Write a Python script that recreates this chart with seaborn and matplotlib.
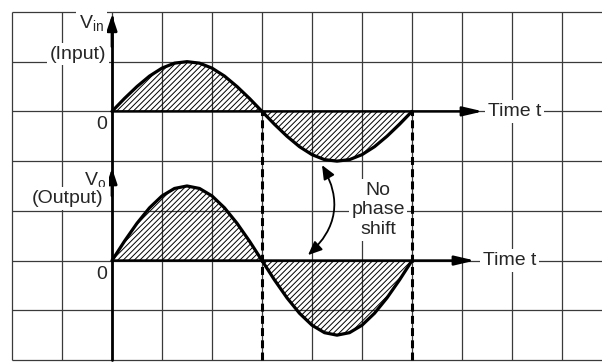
import seaborn as sns
import matplotlib.pyplot as plt
from matplotlib.patches import FancyArrowPatch

# one cycle, time in grid divisions, voltage in grid divisions
time = [0, 0.25, 0.5, 0.75, 1, 1.25, 1.5, 1.75, 2, 2.25, 2.5, 2.75, 3,
        3.25, 3.5, 3.75, 4, 4.25, 4.5, 4.75, 5, 5.25, 5.5, 5.75, 6]
v_in = [0, 0.26, 0.5, 0.71, 0.87, 0.97, 1.0, 0.97, 0.87, 0.71, 0.5, 0.26, 0,
        -0.26, -0.5, -0.71, -0.87, -0.97, -1.0, -0.97, -0.87, -0.71, -0.5, -0.26, 0]
v_out = [0, 0.39, 0.75, 1.06, 1.3, 1.45, 1.5, 1.45, 1.3, 1.06, 0.75, 0.39, 0,
         -0.39, -0.75, -1.06, -1.3, -1.45, -1.5, -1.45, -1.3, -1.06, -0.75, -0.39, 0]

in_level = 5   # where the input time axis sits
out_level = 2  # where the output time axis sits

sns.set_style('white')
plt.rcParams['font.family'] = ['Liberation Sans', 'DejaVu Sans']
plt.rcParams['mathtext.default'] = 'regular'
plt.rcParams['hatch.linewidth'] = 0.7

fig = plt.figure(figsize=(6.02, 3.63), dpi=100)
ax = fig.add_axes([0, 0, 1, 1])
ax.set_xlim(-2.24, 9.8)
ax.set_ylim(-0.06, 7.24)
ax.axis('off')

# graph paper grid
grid_col = '#3a3a3a'
ax.hlines(range(0, 8), -2, 9.8, color=grid_col, lw=0.9, zorder=1)
ax.vlines(range(-2, 10), 0, 7, color=grid_col, lw=0.9, zorder=1)

# waveforms + hatched areas
for level, vals in [(in_level, v_in), (out_level, v_out)]:
    y = [level + v for v in vals]
    ax.fill_between(time, level, y, hatch='//////', facecolor='none',
                    edgecolor='black', linewidth=0, zorder=2)
    sns.lineplot(x=time, y=y, ax=ax, color='black', lw=2.3, zorder=3)

# dashed markers at the zero crossings
ax.vlines([time[12], time[-1]], 0, in_level, color='black', lw=2.2,
          linestyles=(0, (2.6, 1.4)), zorder=3)

# axes with arrow heads
ax.plot([0, 0], [0, 6.9], color='black', lw=2, zorder=4)
head = '-|>,head_length=0.9,head_width=0.3'
for a, b in [((0, 6.3), (0, 6.94)), ((0, 3.3), (0, 3.86))]:
    ax.add_patch(FancyArrowPatch(a, b, arrowstyle=head, mutation_scale=10,
                                 color='black', lw=2, shrinkA=0, shrinkB=0, zorder=4))
hhead = '-|>,head_length=1.2,head_width=0.28'
for level, tip in [(in_level, 7.42), (out_level, 7.26)]:
    ax.add_patch(FancyArrowPatch((0, level), (tip, level), arrowstyle=hhead,
                                 mutation_scale=10, color='black', lw=1.8,
                                 shrinkA=0, shrinkB=0, zorder=4))

box = dict(facecolor='white', edgecolor='none', pad=2)
fs = 14
ax.text(-0.16, 6.68, r'V$_{in}$', ha='right', va='baseline', fontsize=fs, bbox=box, zorder=5)
ax.text(-0.12, 6.06, '(Input)', ha='right', va='baseline', fontsize=fs, bbox=box, zorder=5)
ax.text(-0.12, 3.52, r'V$_o$', ha='right', va='baseline', fontsize=fs, bbox=box, zorder=5)
ax.text(-0.18, 3.16, '(Output)', ha='right', va='baseline', fontsize=fs, bbox=box, zorder=5)
ax.text(-0.2, 4.73, '0', ha='center', va='center', fontsize=fs, zorder=5)
ax.text(-0.2, 1.71, '0', ha='center', va='center', fontsize=fs, zorder=5)
ax.text(7.52, in_level, 'Time t', ha='left', va='center', fontsize=fs, bbox=box, zorder=5)
ax.text(7.42, out_level, 'Time t', ha='left', va='center', fontsize=fs, bbox=box, zorder=5)
ax.text(5.32, 3.02, 'No\nphase\nshift', ha='center', va='center', fontsize=fs,
        bbox=box, zorder=5)

# curved double arrow between the two waves
ax.add_patch(FancyArrowPatch((4.2, 3.92), (3.92, 2.11),
                             connectionstyle='arc3,rad=-0.4',
                             arrowstyle='<|-|>,head_length=0.7,head_width=0.3',
                             mutation_scale=12, color='black', lw=1.3,
                             shrinkA=0, shrinkB=0, zorder=4))

plt.savefig('out.png', dpi=100)
